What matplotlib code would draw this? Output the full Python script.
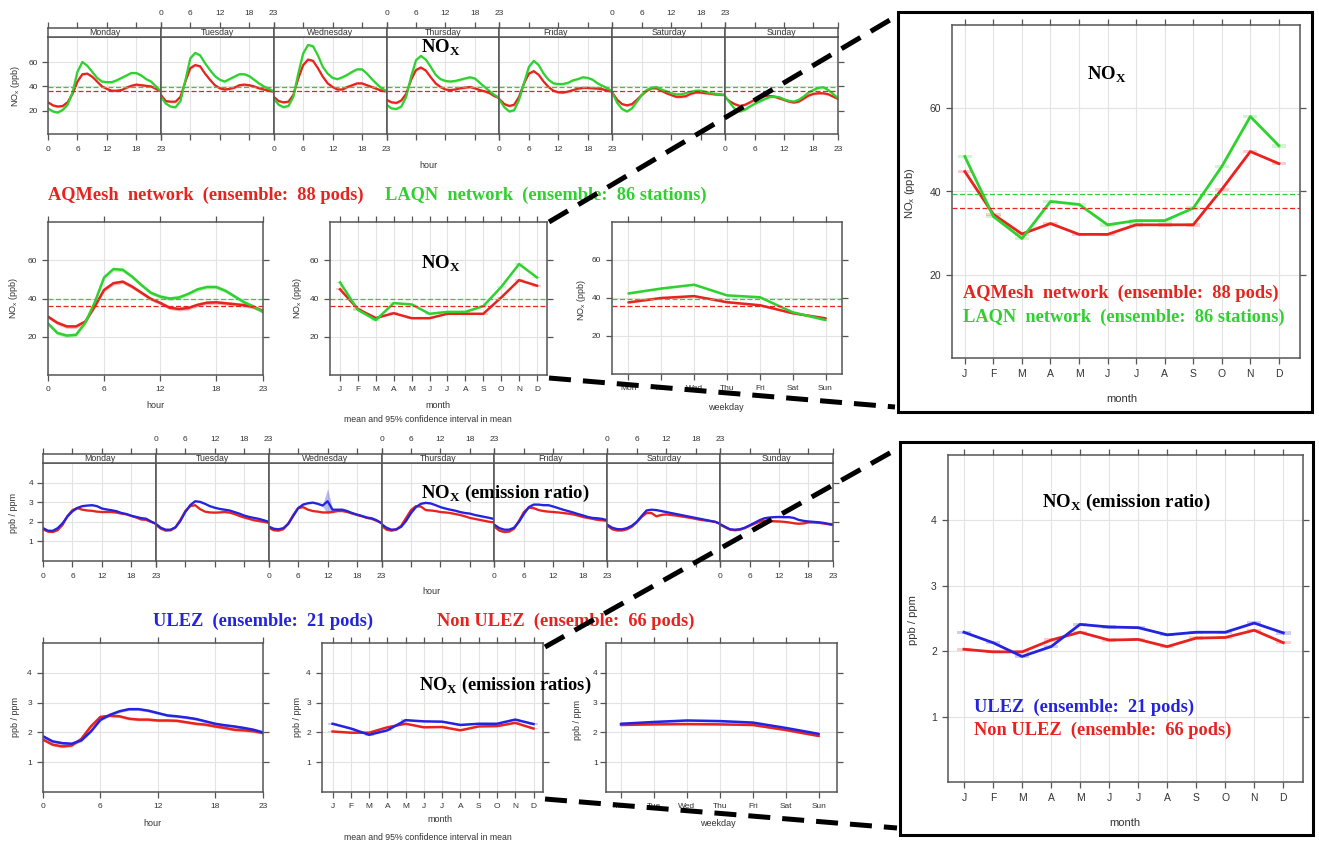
import numpy as np
import matplotlib
matplotlib.use("Agg")
import matplotlib.pyplot as plt
from matplotlib.patches import Rectangle
from matplotlib.lines import Line2D

plt.rcParams["font.family"] = ["Liberation Sans", "DejaVu Sans"]

# ---------------------------------------------------------------- data
hours = list(range(24))
hour_ticks = [0, 6, 12, 18, 23]
day_names = ["Monday", "Tuesday", "Wednesday", "Thursday", "Friday", "Saturday", "Sunday"]
weekday_labels = ["Mon", "Tue", "Wed", "Thu", "Fri", "Sat", "Sun"]
month_labels = ["J", "F", "M", "A", "M", "J", "J", "A", "S", "O", "N", "D"]

# NOx (ppb): AQMesh pods (red) and LAQN stations (green)
aqmesh_mean = 36.0
laqn_mean = 39.5

aqmesh_week = [
    [27, 24.5, 23.5, 24, 27, 34, 44, 50, 50.5, 48, 44, 40, 38, 36.5, 36.5, 37, 39, 40.5, 41.5, 41, 40.5, 40, 38, 36],
    [33, 28, 27.5, 27.5, 31.5, 44, 55, 57.5, 56.5, 50.5, 45.5, 41, 38.5, 37.5, 38, 39, 41, 41.5, 41, 40, 38.5, 37.5, 36.5, 35.8],
    [31.5, 28, 27, 27.5, 33, 46.5, 57.5, 62, 61, 55, 48, 42.5, 39.5, 37.5, 37.5, 39.5, 41, 42.5, 42.5, 41, 39.5, 38, 36.5, 36],
    [29, 27, 26.5, 28.5, 34, 45.5, 53.5, 55.5, 53, 47.5, 42.5, 39.5, 37.5, 37, 37.5, 38.5, 39, 39.5, 38.5, 37, 36, 34.5, 32, 30.5],
    [29.5, 25.5, 24, 25, 31.5, 42.5, 50.5, 52.5, 49.5, 44, 39.5, 36.5, 35.2, 35, 35.8, 37, 38.2, 38.8, 38.8, 38.5, 38.2, 37.7, 36.6, 35.8],
    [35, 29, 25.5, 24.5, 25.5, 29, 33, 36.5, 38.5, 38.5, 36.5, 34.5, 33, 31.5, 31.5, 32, 34, 35, 35, 34.5, 34, 33.5, 33.3, 33],
    [30.9, 27.6, 25.4, 24, 24.9, 26.8, 29, 30.9, 32.2, 32.2, 31.7, 30.3, 29, 27.6, 26.8, 27.6, 30, 32.5, 33.9, 34.4, 34.4, 33.6, 31.7, 29.8],
]
laqn_week = [
    [22, 19.5, 18.6, 20.8, 25, 35, 52, 60, 57, 52, 47, 44, 43.5, 43.5, 45, 47, 49, 51, 51, 49, 46, 44, 40, 36],
    [31.5, 26, 23.5, 23, 28, 45, 63, 67.5, 65.5, 59, 53.5, 48.5, 45.5, 44, 46, 48, 50, 50, 48.5, 45.5, 42.5, 40, 38, 36],
    [30, 25, 23, 24, 31.5, 50.5, 67, 74, 73, 65.5, 56, 50.5, 47, 46, 47.5, 49.5, 52, 54, 54, 50.5, 46, 42, 38.5, 36],
    [25, 22, 21.5, 23.5, 31.5, 48, 61.5, 65, 62, 56, 49.5, 46, 44.5, 44, 44.5, 45.5, 46.5, 47.5, 46.5, 43, 39.5, 36, 33, 30.5],
    [29, 23, 19.5, 20.5, 29, 42.5, 56, 61, 57.5, 50.5, 45.5, 42.5, 42, 42, 43, 45, 46, 47.5, 47, 45.5, 42.5, 40.5, 38.5, 36],
    [35, 26.5, 21.5, 19.5, 22, 27.5, 33, 37, 39, 39.5, 37.5, 36, 34.5, 33.5, 33.5, 34.5, 35.5, 36.5, 36.5, 35.5, 34.5, 34, 33.5, 33],
    [31.7, 26.3, 21.4, 19.5, 20.8, 23.5, 25.7, 27.6, 29.5, 31.2, 31.7, 31.2, 29.5, 28.2, 27.6, 29, 31.7, 35, 37.1, 38.8, 39.3, 37.1, 33.9, 30.3],
]
aqmesh_hour = [30.5, 27.3, 25.4, 25.4, 28, 35.8, 44.5, 48, 48.8, 46.2, 43, 39.8, 37.7, 35.2, 34.5, 35, 36.7, 37.8, 38, 37.5, 37, 36.5, 35.5, 33.5]
laqn_hour = [26.9, 22, 20.6, 21, 27.4, 38, 51, 55.4, 55, 51.4, 47, 43, 41, 40, 40.5, 42.4, 44.8, 46, 46, 44, 41, 38, 35.8, 33]
aqmesh_month = [44.8, 34.5, 29.8, 32.3, 29.7, 29.7, 32, 32, 32, 40.5, 49.6, 46.7]
laqn_month = [48.4, 34, 28.7, 37.6, 36.9, 32, 33, 33, 36, 46, 58, 51]
aqmesh_wday = [37.7, 40, 41, 37.8, 36.2, 32, 29.3]
laqn_wday = [42.4, 45, 47, 41.4, 40.4, 32.5, 28.4]

# NOx emission ratio (ppb / ppm): ULEZ pods (blue) and non-ULEZ pods (red)
ulez_week = [
    [1.68, 1.55, 1.54, 1.68, 1.93, 2.28, 2.54, 2.71, 2.8, 2.83, 2.85, 2.8, 2.68, 2.63, 2.59, 2.54, 2.45, 2.4, 2.31, 2.25, 2.19, 2.16, 2.02, 1.9],
    [1.9, 1.7, 1.6, 1.6, 1.72, 2.05, 2.5, 2.85, 3.05, 3.02, 2.92, 2.8, 2.72, 2.66, 2.62, 2.58, 2.5, 2.42, 2.32, 2.25, 2.2, 2.15, 2.08, 2.0],
    [1.76, 1.65, 1.62, 1.68, 1.9, 2.3, 2.7, 2.88, 2.95, 2.98, 2.92, 2.83, 3.05, 2.62, 2.62, 2.62, 2.55, 2.45, 2.37, 2.3, 2.22, 2.18, 2.08, 1.92],
    [1.88, 1.7, 1.6, 1.62, 1.75, 2.05, 2.45, 2.75, 2.92, 2.97, 2.94, 2.85, 2.75, 2.68, 2.62, 2.57, 2.5, 2.45, 2.42, 2.35, 2.3, 2.25, 2.2, 2.14],
    [1.85, 1.68, 1.6, 1.6, 1.7, 2.0, 2.4, 2.75, 2.88, 2.88, 2.85, 2.85, 2.78, 2.7, 2.62, 2.55, 2.48, 2.4, 2.33, 2.25, 2.2, 2.18, 2.15, 2.08],
    [1.85, 1.7, 1.63, 1.62, 1.68, 1.8, 2.0, 2.3, 2.58, 2.62, 2.6, 2.55, 2.5, 2.45, 2.4, 2.35, 2.3, 2.25, 2.2, 2.15, 2.1, 2.05, 2.0, 1.9],
    [1.88, 1.75, 1.62, 1.6, 1.62, 1.7, 1.82, 1.95, 2.08, 2.18, 2.22, 2.24, 2.25, 2.24, 2.24, 2.2, 2.1, 2.05, 2.02, 2.0, 1.98, 1.95, 1.9, 1.85],
]
nonulez_week = [
    [1.62, 1.5, 1.48, 1.58, 1.85, 2.3, 2.6, 2.7, 2.62, 2.58, 2.56, 2.52, 2.5, 2.5, 2.5, 2.47, 2.42, 2.38, 2.3, 2.22, 2.12, 2.1, 2.0, 1.9],
    [1.85, 1.65, 1.55, 1.57, 1.72, 2.1, 2.55, 2.8, 2.85, 2.65, 2.52, 2.48, 2.47, 2.48, 2.5, 2.47, 2.4, 2.3, 2.22, 2.15, 2.08, 2.04, 2.0, 1.95],
    [1.7, 1.57, 1.55, 1.63, 1.92, 2.35, 2.7, 2.75, 2.62, 2.55, 2.52, 2.48, 2.48, 2.5, 2.55, 2.55, 2.5, 2.42, 2.35, 2.28, 2.2, 2.15, 2.05, 1.95],
    [1.8, 1.6, 1.55, 1.6, 1.8, 2.2, 2.6, 2.8, 2.78, 2.6, 2.58, 2.55, 2.5, 2.48, 2.45, 2.4, 2.35, 2.28, 2.2, 2.15, 2.1, 2.05, 2.0, 1.97],
    [1.75, 1.55, 1.48, 1.5, 1.65, 2.05, 2.5, 2.72, 2.7, 2.6, 2.55, 2.52, 2.5, 2.48, 2.45, 2.42, 2.38, 2.32, 2.25, 2.2, 2.15, 2.1, 2.08, 2.05],
    [1.8, 1.62, 1.56, 1.56, 1.62, 1.75, 1.98, 2.25, 2.45, 2.45, 2.28, 2.35, 2.38, 2.35, 2.32, 2.28, 2.24, 2.2, 2.15, 2.1, 2.07, 2.04, 2.0, 1.9],
    [1.85, 1.72, 1.6, 1.57, 1.6, 1.68, 1.8, 1.9, 2.0, 2.05, 2.05, 2.03, 2.02, 2.0, 1.97, 1.93, 1.9, 1.92, 1.97, 1.97, 1.95, 1.92, 1.88, 1.85],
]
ulez_hour = [1.87, 1.7, 1.64, 1.62, 1.73, 2.03, 2.42, 2.59, 2.71, 2.78, 2.78, 2.73, 2.65, 2.57, 2.54, 2.5, 2.45, 2.37, 2.29, 2.24, 2.2, 2.15, 2.09, 2.0]
nonulez_hour = [1.76, 1.59, 1.53, 1.56, 1.78, 2.2, 2.52, 2.56, 2.54, 2.46, 2.43, 2.43, 2.4, 2.4, 2.39, 2.34, 2.29, 2.26, 2.2, 2.15, 2.09, 2.07, 2.04, 1.98]
ulez_month = [2.29, 2.13, 1.92, 2.07, 2.41, 2.37, 2.36, 2.25, 2.29, 2.29, 2.43, 2.28]
nonulez_month = [2.03, 1.99, 1.99, 2.17, 2.29, 2.17, 2.18, 2.07, 2.2, 2.21, 2.32, 2.13]
ulez_wday = [2.29, 2.35, 2.4, 2.38, 2.33, 2.15, 1.95]
nonulez_wday = [2.25, 2.27, 2.28, 2.27, 2.25, 2.08, 1.88]

# half-width of the 95% confidence interval around each mean
nox_ci = 1.0
nox_month_ci = 0.45
ratio_ci = 0.045
ratio_month_ci = 0.025
ulez_week_ci = np.full((7, 24), 0.05)
ulez_week_ci[2, 12] = 0.65   # Wednesday noon outlier in the ULEZ ensemble

# ---------------------------------------------------------------- style
W, H = 1319, 843
RED = "#e8231f"
GREEN = "#2fd12f"
BLUE = "#2323e0"
AXC = "#555555"
TXT = "#333333"
GRID = "#e3e3e3"
SERIF = "Liberation Serif"
LEG = 13.2

fig = plt.figure(figsize=(W / 100, H / 100), dpi=100)
fig.patch.set_facecolor("white")


def fx(x):
    return x / W


def fy(y):
    return 1 - y / H


def add_ax(x0, y0, x1, y1):
    return fig.add_axes([x0 / W, 1 - y1 / H, (x1 - x0) / W, (y1 - y0) / H])


def style(ax, xlim, ylim, xticks, xlabels, yticks, fs=6):
    ax.set_xlim(*xlim)
    ax.set_ylim(*ylim)
    ax.set_xticks(xticks)
    ax.set_xticklabels(xlabels)
    ax.set_yticks(yticks)
    ax.set_yticklabels([str(v) for v in yticks])
    ax.grid(True, color=GRID, lw=0.8)
    ax.set_axisbelow(True)
    for s in ax.spines.values():
        s.set_color(AXC)
        s.set_linewidth(1.1)
    ax.tick_params(direction="out", length=4, width=0.9, color=AXC,
                   labelsize=fs, labelcolor=TXT, top=True, right=True,
                   labeltop=False, labelright=False, pad=4)


def ftext(x, y, s, **kw):
    kw.setdefault("ha", "center")
    kw.setdefault("va", "center")
    return fig.text(fx(x), fy(y), s, **kw)


def band_line(ax, x, y, ci, color, lw=1.8):
    y = np.asarray(y, float)
    ax.fill_between(x, y - ci, y + ci, color=color, alpha=0.3, lw=0)
    ax.plot(x, y, color=color, lw=lw, solid_capstyle="round")


def month_line(ax, y, ci, color, lw=1.8):
    x = np.arange(1, 13)
    for xi, yi in zip(x, y):
        ax.add_patch(Rectangle((xi - 0.25, yi - ci), 0.5, 2 * ci,
                               color=color, alpha=0.22, lw=0))
    ax.plot(x, y, color=color, lw=lw)


def mean_line(ax, value, color):
    ax.axhline(value, color=color, lw=0.9, ls=(0, (4, 2)))


def nox_title(x, y, extra="", size=13.5):
    ftext(x, y, r"NO$_\mathregular{X}$" + extra, family=SERIF,
          weight="bold", fontsize=size, color="black")


def week_panel(top, bottom, strip_top, left, right, series, ylim, yticks,
               ci_list, means=None):
    dw = (right - left) / 7
    for d in range(7):
        x0 = left + d * dw
        x1 = left + (d + 1) * dw
        ax = add_ax(x0, top, x1, bottom)
        style(ax, (0, 23), ylim, hour_ticks, [str(h) for h in hour_ticks], yticks)
        ax.tick_params(labelbottom=(d % 2 == 0), top=False,
                       left=(d == 0), labelleft=(d == 0), right=(d == 6))
        ax.tick_params(axis="x", pad=5)
        ax.tick_params(axis="y", pad=3)
        for (vals, col), ci in zip(series, ci_list):
            c = ci[d] if np.ndim(ci) > 0 else ci
            band_line(ax, hours, vals[d], c, col, lw=1.6)
        if means:
            for v, col in means:
                mean_line(ax, v, col)
        st = add_ax(x0, strip_top, x1, top)
        st.set_xlim(0, 23)
        st.set_ylim(0, 1)
        st.set_xticks(hour_ticks)
        st.set_xticklabels([str(h) for h in hour_ticks])
        st.set_yticks([])
        for s in st.spines.values():
            s.set_color(AXC)
            s.set_linewidth(1.1)
        st.tick_params(axis="x", direction="out", length=4, width=0.9,
                       color=AXC, labelsize=6, labelcolor=TXT, top=True,
                       bottom=False, labeltop=(d % 2 == 1),
                       labelbottom=False, pad=4)
        st.text(11.5, 0.45, day_names[d], ha="center", va="center",
                fontsize=6.3, color=TXT)


# ---------------------------------------------------------------- NOx week
week_panel(37, 134, 28, 48, 838,
           [(aqmesh_week, RED), (laqn_week, GREEN)], (1, 80.5), [20, 40, 60],
           [nox_ci, nox_ci], means=[(aqmesh_mean, RED), (laqn_mean, GREEN)])
ftext(15, 86, r"NO$_\mathregular{x}$ (ppb)", rotation=90, fontsize=6.5, color=TXT)
ftext(428, 166, "hour", fontsize=6.5, color=TXT)
nox_title(441, 48)

# legend row
ftext(48, 195, "AQMesh  network  (ensemble:  88 pods)", ha="left",
      family=SERIF, weight="bold", fontsize=LEG, color=RED)
ftext(385, 195, "LAQN  network  (ensemble:  86 stations)", ha="left",
      family=SERIF, weight="bold", fontsize=LEG, color=GREEN)

# ---------------------------------------------------------------- NOx hour
ax = add_ax(48, 222, 263, 375)
style(ax, (0, 23), (0, 80), hour_ticks, [str(h) for h in hour_ticks], [20, 40, 60])
band_line(ax, hours, aqmesh_hour, nox_ci, RED)
band_line(ax, hours, laqn_hour, nox_ci, GREEN)
mean_line(ax, aqmesh_mean, RED)
mean_line(ax, laqn_mean, GREEN)
ftext(13, 298, r"NO$_\mathregular{x}$ (ppb)", rotation=90, fontsize=6.5, color=TXT)
ftext(155, 405, "hour", fontsize=6.5, color=TXT)

# ---------------------------------------------------------------- NOx month
ax = add_ax(330, 222, 547, 375)
style(ax, (0.44, 12.56), (0, 80), range(1, 13), month_labels, [20, 40, 60])
month_line(ax, aqmesh_month, nox_month_ci, RED)
month_line(ax, laqn_month, nox_month_ci, GREEN)
mean_line(ax, aqmesh_mean, RED)
mean_line(ax, laqn_mean, GREEN)
ftext(298, 298, r"NO$_\mathregular{x}$ (ppb)", rotation=90, fontsize=6.5, color=TXT)
ftext(438, 405, "month", fontsize=6.5, color=TXT)
ftext(428, 420, "mean and 95% confidence interval in mean", fontsize=6.3, color=TXT)
nox_title(441, 264)

# ---------------------------------------------------------------- NOx weekday
ax = add_ax(612, 222, 842, 374)
style(ax, (0.5, 7.5), (0, 80), range(1, 8), weekday_labels, [20, 40, 60])
band_line(ax, range(1, 8), aqmesh_wday, 0.5, RED)
band_line(ax, range(1, 8), laqn_wday, 0.5, GREEN)
mean_line(ax, aqmesh_mean, RED)
mean_line(ax, laqn_mean, GREEN)
ftext(582, 300, r"NO$_\mathregular{x}$ (ppb)", rotation=90, fontsize=6.5, color=TXT)
ftext(726, 407, "weekday", fontsize=6.5, color=TXT)

# ---------------------------------------------------------------- NOx inset
ax = add_ax(952, 25, 1300, 358)
style(ax, (0.55, 12.74), (0, 80), range(1, 13), month_labels, [20, 40, 60], fs=7.5)
month_line(ax, aqmesh_month, nox_month_ci, RED, lw=2)
month_line(ax, laqn_month, nox_month_ci, GREEN, lw=2)
mean_line(ax, aqmesh_mean, RED)
mean_line(ax, laqn_mean, GREEN)
ftext(910, 193, r"NO$_\mathregular{x}$ (ppb)", rotation=90, fontsize=8, color=TXT)
ftext(1122, 399, "month", fontsize=8, color=TXT)
nox_title(1107, 75)
ftext(963, 293, "AQMesh  network  (ensemble:  88 pods)", ha="left",
      family=SERIF, weight="bold", fontsize=LEG, color=RED)
ftext(963, 317, "LAQN  network  (ensemble:  86 stations)", ha="left",
      family=SERIF, weight="bold", fontsize=LEG, color=GREEN)
fig.add_artist(Rectangle((fx(898), fy(412)), (1312 - 898) / W, (412 - 12) / H,
                         transform=fig.transFigure, fill=False, ec="black", lw=2.2))

# ---------------------------------------------------------------- ratio week
week_panel(463, 561, 454, 43, 833,
           [(nonulez_week, RED), (ulez_week, BLUE)], (0, 5), [1, 2, 3, 4],
           [ratio_ci, ulez_week_ci])
ftext(14, 513, "ppb / ppm", rotation=90, fontsize=6.5, color=TXT)
ftext(431, 592, "hour", fontsize=6.5, color=TXT)
nox_title(505, 493, " (emission ratio)")

ftext(153, 621, "ULEZ  (ensemble:  21 pods)", ha="left",
      family=SERIF, weight="bold", fontsize=LEG, color=BLUE)
ftext(437, 621, "Non ULEZ  (ensemble:  66 pods)", ha="left",
      family=SERIF, weight="bold", fontsize=LEG, color=RED)

# ---------------------------------------------------------------- ratio hour
ax = add_ax(43, 643, 263, 792)
style(ax, (0, 23), (0, 5), hour_ticks, [str(h) for h in hour_ticks], [1, 2, 3, 4])
band_line(ax, hours, nonulez_hour, ratio_ci, RED)
band_line(ax, hours, ulez_hour, ratio_ci, BLUE)
ftext(15, 717, "ppb / ppm", rotation=90, fontsize=6.5, color=TXT)
ftext(152, 823, "hour", fontsize=6.5, color=TXT)

# ---------------------------------------------------------------- ratio month
ax = add_ax(322, 643, 543, 792)
style(ax, (0.42, 12.52), (0, 5), range(1, 13), month_labels, [1, 2, 3, 4])
month_line(ax, nonulez_month, ratio_month_ci, RED)
month_line(ax, ulez_month, ratio_month_ci, BLUE)
ftext(297, 717, "ppb / ppm", rotation=90, fontsize=6.5, color=TXT)
ftext(440, 820, "month", fontsize=6.5, color=TXT)
ftext(428, 837, "mean and 95% confidence interval in mean", fontsize=6.3, color=TXT)
nox_title(505, 685, " (emission ratios)", size=13.2)

# ---------------------------------------------------------------- ratio weekday
ax = add_ax(606, 643, 837, 792)
style(ax, (0.55, 7.55), (0, 5), range(1, 8), weekday_labels, [1, 2, 3, 4])
ax.tick_params(axis="y", pad=2)
band_line(ax, range(1, 8), nonulez_wday, 0.03, RED)
band_line(ax, range(1, 8), ulez_wday, 0.03, BLUE)
ftext(577, 720, "ppb / ppm", rotation=90, fontsize=6.5, color=TXT)
ftext(718, 823, "weekday", fontsize=6.5, color=TXT)

# ---------------------------------------------------------------- ratio inset
ax = add_ax(948, 455, 1303, 782)
style(ax, (0.45, 12.68), (0, 5), range(1, 13), month_labels, [1, 2, 3, 4], fs=7.5)
month_line(ax, nonulez_month, ratio_month_ci, RED, lw=2)
month_line(ax, ulez_month, ratio_month_ci, BLUE, lw=2)
ftext(913, 620, "ppb / ppm", rotation=90, fontsize=8, color=TXT)
ftext(1125, 823, "month", fontsize=8, color=TXT)
nox_title(1126, 502, " (emission ratio)")
ftext(974, 707, "ULEZ  (ensemble:  21 pods)", ha="left",
      family=SERIF, weight="bold", fontsize=LEG, color=BLUE)
ftext(974, 730, "Non ULEZ  (ensemble:  66 pods)", ha="left",
      family=SERIF, weight="bold", fontsize=LEG, color=RED)
fig.add_artist(Rectangle((fx(900), fy(835)), (1313 - 900) / W, (835 - 442) / H,
                         transform=fig.transFigure, fill=False, ec="black", lw=2.2))

# ---------------------------------------------------------------- zoom connectors
for (x0, y0), (x1, y1) in [((549, 222), (895, 17)), ((549, 378), (895, 407)),
                           ((545, 647), (897, 449)), ((545, 799), (897, 828))]:
    fig.add_artist(Line2D([fx(x0), fx(x1)], [fy(y0), fy(y1)],
                          transform=fig.transFigure, color="black", lw=3.6,
                          ls=(0, (4.4, 2.4)), dash_capstyle="butt", zorder=50))

fig.savefig("out.png", dpi=100, facecolor="white")
